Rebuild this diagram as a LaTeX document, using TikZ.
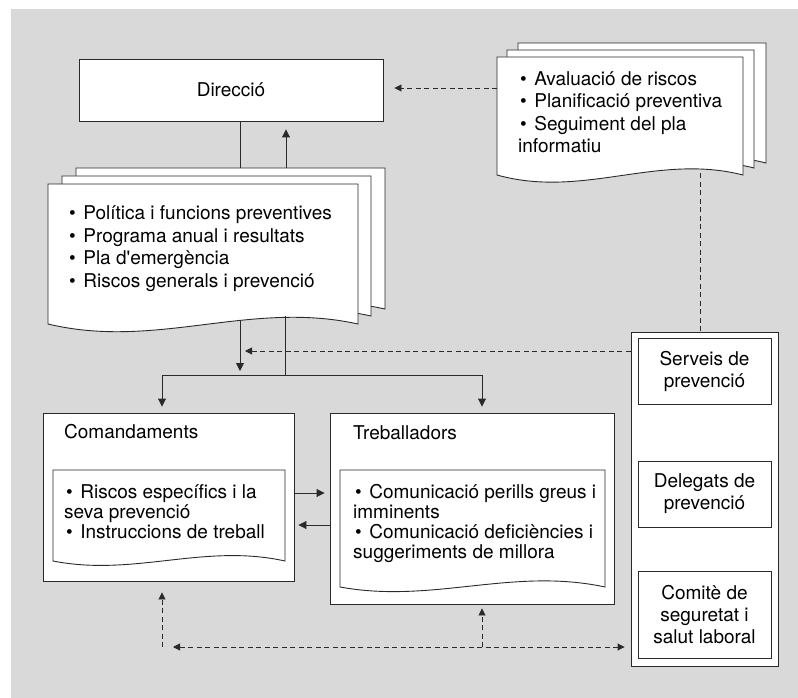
\documentclass[tikz,border=0pt]{standalone}
\usepackage{fontspec}
\setmainfont{TeX Gyre Heros}
\usetikzlibrary{arrows.meta}

\definecolor{panelgray}{HTML}{D9D9D9}
\definecolor{ink}{HTML}{2A2A2A}

% A sheet with a wavy lower edge: left, top, right, bottom corner, rise, dip
\newcommand\docsheet[6]{%
  \path[sheet] (#1,#2) -- (#3,#2) -- (#3,#4)
    .. controls ({#3-0.35*(#3-#1)},{#4-#5}) and ({#1+0.35*(#3-#1)},{#4+#6}) .. (#1,#4)
    -- cycle;}
% list bullet, slightly indented
\newcommand\bul{\hspace*{2pt}\textbullet\hspace{7.5pt}}

\tikzset{
  line/.style={draw=ink, line width=0.9pt},
  sheet/.style={line, fill=white},
  box/.style={line, fill=white, rectangle, inner sep=0pt, align=center,
    font=\fontsize{19}{22}\selectfont},
  arr/.style={line, -{Triangle[length=8pt,width=8pt]}},
  dline/.style={line, dash pattern=on 5pt off 3.5pt},
  darr/.style={dline, -{Triangle[length=7pt,width=7pt]}},
  title/.style={inner sep=0pt, anchor=base west, font=\fontsize{19}{22}\selectfont},
  listA/.style={inner sep=0pt, anchor=north west, align=left,
    font=\fontsize{19}{22.6}\selectfont},
  listB/.style={inner sep=0pt, anchor=north west, align=left,
    font=\fontsize{19}{20}\selectfont},
}

\begin{document}
\begin{tikzpicture}[x=1pt,y=-1pt]
  \useasboundingbox (0,0) rectangle (798,698);
  \fill[white] (0,0) rectangle (798,698);
  \fill[panelgray] (11,9) rectangle (798,698);

  % Direcció
  \node[box, minimum width=304pt, minimum height=62pt] (dir) at (231,90) {Direcció};

  % stack of policy documents
  \docsheet{76}{168}{385}{309}{24}{26}
  \docsheet{62}{176}{371}{316}{24}{26}
  \docsheet{48}{184}{358}{324}{24}{26}
  \node[listA] (pol) at (67,205.5) {\bul Política i funcions preventives\\
    \bul Programa anual i resultats\\
    \bul Pla d\textquotesingle emergència\\
    \bul Riscos generals i prevenció};
  \coordinate (polA-top) at (240,168);
  \coordinate (polB-top) at (286,168);
  \coordinate (polA-bot) at (240,320);
  \coordinate (polB-bot) at (285,316);

  % stack of risk assessment documents
  \docsheet{518}{43}{766}{163}{22}{24}
  \docsheet{507}{50}{754}{168}{22}{24}
  \docsheet{497}{57}{743}{175}{22}{24}
  \node[listA] (avl) at (518,71) {\bul Avaluació de riscos\\
    \bul Planificació preventiva\\
    \bul Seguiment del pla\\
    informatiu};
  \coordinate (avl-left) at (497,88);
  \coordinate (avl-bot) at (700,173);

  % Comandaments
  \node[box, minimum width=251pt, minimum height=168pt] (com) at (168.5,497) {};
  \node[title] (com-title) at (64,438) {Comandaments};
  \docsheet{53}{470}{285}{561}{18}{16}
  \node[listB] (com-text) at (64,484) {\bul Riscos específics i la\\
    seva prevenció\\
    \bul Instruccions de treball};

  % Treballadors
  \node[box, minimum width=284pt, minimum height=191pt] (treb) at (472,508.5) {};
  \node[title] (treb-title) at (353,439) {Treballadors};
  \docsheet{340}{470}{605}{587}{20}{17}
  \node[listB] (treb-text) at (353,484) {\bul Comunicació perills greus i\\
    imminents\\
    \bul Comunicació deficiències i\\
    suggeriments de millora};

  % prevention bodies
  \node[box, minimum width=147pt, minimum height=334pt] (panel) at (704.5,499) {};
  \node[box, minimum width=133pt, minimum height=66pt] (srv) at (704.5,371) {Serveis de\\prevenció};
  \node[box, minimum width=133pt, minimum height=66pt] (del) at (704.5,494) {Delegats de\\prevenció};
  \node[box, minimum width=133pt, minimum height=87pt] (cst) at (704.5,614.5) {Comitè de\\seguretat i\\salut laboral};

  % helper points for the connectors
  \coordinate (split) at (285,375);
  \coordinate (feed) at (0,351);
  \coordinate (r1) at (0,493);
  \coordinate (r2) at (0,525);
  \coordinate (c-com) at (162,647);
  \coordinate (c-treb) at (482,647);

  % solid connectors
  \draw[line] (dir.south -| polA-top) -- (polA-top);
  \draw[arr, shorten >=8pt] (polB-top) -- (dir.south -| polB-top);
  \draw[arr, shorten >=4pt] (polA-bot) -- (polA-bot |- split);
  \draw[line] (polB-bot) -- (split);
  \draw[arr, shorten >=6pt] (split) -| (com.north -| c-com);
  \draw[arr, shorten >=6pt] (split) -| (treb.north -| c-treb);
  \draw[arr, shorten >=5pt] (com.east |- r1) -- (treb.west |- r1);
  \draw[arr, shorten >=4pt] (treb.west |- r2) -- (com.east |- r2);

  % dashed connectors
  \draw[darr, shorten >=11pt] (avl-left) -- (dir.east |- avl-left);
  \draw[dline] (avl-bot) -- (panel.north -| avl-bot);
  \draw[darr, shorten >=5pt] (panel.west |- feed) -- (polA-bot |- feed);
  \draw[darr, shorten >=11pt] (c-com) -- (com.south -| c-com);
  \draw[darr, shorten >=4pt] (c-treb) -- (treb.south -| c-treb);
  \draw[dline, {Triangle[length=7pt,width=7pt]}-{Triangle[length=7pt,width=7pt]},
    shorten <=11pt, shorten >=6pt] (c-com) -- (panel.west |- c-com);
\end{tikzpicture}
\end{document}
